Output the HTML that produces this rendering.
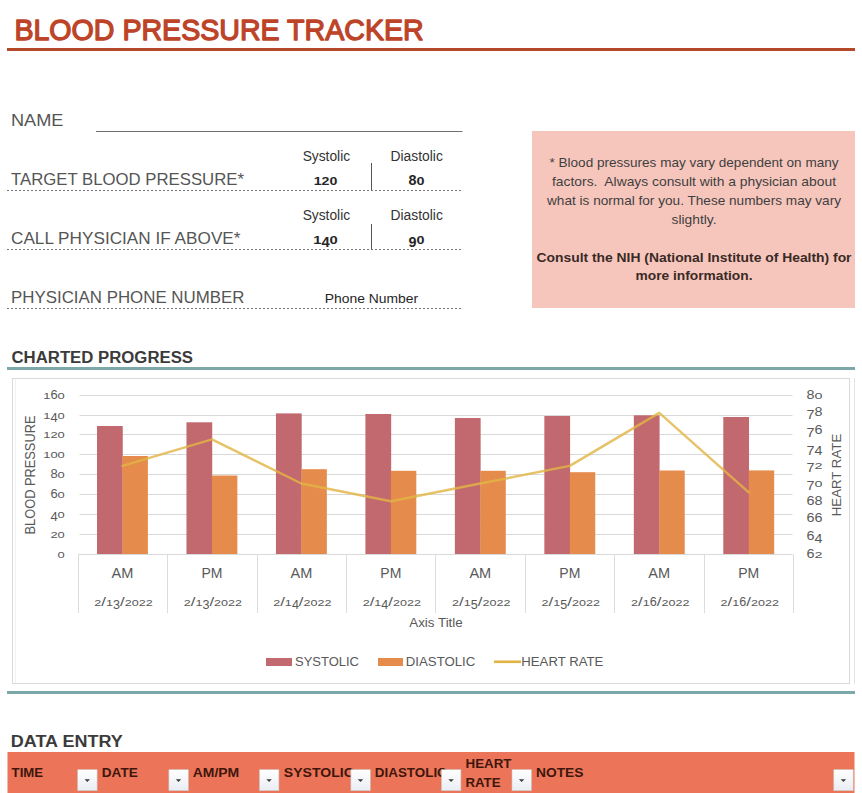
<!DOCTYPE html>
<html><head><meta charset="utf-8"><title>Blood Pressure Tracker</title>
<style>
html,body{margin:0;padding:0;background:#fff;}
body{width:862px;height:793px;overflow:hidden;}
svg{display:block;font-family:"Liberation Sans", Arial, sans-serif;}
</style></head>
<body>
<svg width="862" height="793" viewBox="0 0 862 793">
<defs><linearGradient id="dd" x1="0" y1="0" x2="0" y2="1"><stop offset="0" stop-color="#ffffff"/><stop offset="1" stop-color="#e9edf3"/></linearGradient></defs>
<rect x="0" y="0" width="862" height="793" fill="#fff"/>
<text x="14.4" y="39.5" font-size="30.2" fill="#BD4428" textLength="409.3" lengthAdjust="spacingAndGlyphs" stroke="#BD4428" stroke-width="1.35" stroke-linejoin="round">BLOOD PRESSURE TRACKER</text>
<rect x="7" y="48" width="848" height="3" fill="#B6482A"/>
<text x="11" y="126.2" font-size="16.6" fill="#555555" textLength="52.5" lengthAdjust="spacingAndGlyphs">NAME</text>
<rect x="96" y="131" width="366.5" height="1" fill="#707070"/>
<text x="11" y="184.7" font-size="16.6" fill="#555555" textLength="233" lengthAdjust="spacingAndGlyphs">TARGET BLOOD PRESSURE*</text>
<text x="11" y="243.7" font-size="16.6" fill="#555555" textLength="229.5" lengthAdjust="spacingAndGlyphs">CALL PHYSICIAN IF ABOVE*</text>
<text x="11" y="302.7" font-size="16.6" fill="#555555" textLength="233.5" lengthAdjust="spacingAndGlyphs">PHYSICIAN PHONE NUMBER</text>
<line x1="7" y1="190.5" x2="463" y2="190.5" stroke="#777777" stroke-width="1" stroke-dasharray="2 2"/>
<line x1="7" y1="249.5" x2="463" y2="249.5" stroke="#777777" stroke-width="1" stroke-dasharray="2 2"/>
<line x1="7" y1="308.5" x2="463" y2="308.5" stroke="#777777" stroke-width="1" stroke-dasharray="2 2"/>
<text x="326.4" y="161.3" font-size="13.8" fill="#333333" text-anchor="middle" textLength="47.5" lengthAdjust="spacingAndGlyphs">Systolic</text>
<text x="416.7" y="161.3" font-size="13.8" fill="#333333" text-anchor="middle" textLength="52.3" lengthAdjust="spacingAndGlyphs">Diastolic</text>
<text x="326.4" y="220.3" font-size="13.8" fill="#333333" text-anchor="middle" textLength="47.5" lengthAdjust="spacingAndGlyphs">Systolic</text>
<text x="416.7" y="220.3" font-size="13.8" fill="#333333" text-anchor="middle" textLength="52.3" lengthAdjust="spacingAndGlyphs">Diastolic</text>
<rect x="371" y="163" width="1" height="27" fill="#555"/>
<rect x="371" y="224" width="1" height="25" fill="#555"/>
<text fill="#262626" font-weight="bold"><tspan x="313.65" y="185.30" font-size="10.79" textLength="7.90" lengthAdjust="spacingAndGlyphs">1</tspan><tspan x="321.55" y="185.30" font-size="10.79" textLength="7.90" lengthAdjust="spacingAndGlyphs">2</tspan><tspan x="329.45" y="185.30" font-size="10.79" textLength="7.90" lengthAdjust="spacingAndGlyphs">0</tspan></text>
<text fill="#262626" font-weight="bold"><tspan x="408.60" y="185.30" font-size="14.20" textLength="8.00" lengthAdjust="spacingAndGlyphs">8</tspan><tspan x="416.60" y="185.30" font-size="10.79" textLength="8.00" lengthAdjust="spacingAndGlyphs">0</tspan></text>
<text fill="#262626" font-weight="bold"><tspan x="313.20" y="244.10" font-size="10.79" textLength="8.20" lengthAdjust="spacingAndGlyphs">1</tspan><tspan x="321.40" y="247.37" font-size="14.20" textLength="8.20" lengthAdjust="spacingAndGlyphs">4</tspan><tspan x="329.60" y="244.10" font-size="10.79" textLength="8.20" lengthAdjust="spacingAndGlyphs">0</tspan></text>
<text fill="#262626" font-weight="bold"><tspan x="408.60" y="247.37" font-size="14.20" textLength="8.00" lengthAdjust="spacingAndGlyphs">9</tspan><tspan x="416.60" y="244.10" font-size="10.79" textLength="8.00" lengthAdjust="spacingAndGlyphs">0</tspan></text>
<text x="371.5" y="302.8" font-size="13.2" fill="#262626" text-anchor="middle" textLength="93.3" lengthAdjust="spacingAndGlyphs">Phone Number</text>
<rect x="532" y="131" width="323" height="177" fill="#F6C6BC"/>
<text x="694" y="166.7" font-size="13.3" fill="#3f3f3f" text-anchor="middle" textLength="289" lengthAdjust="spacingAndGlyphs">* Blood pressures may vary dependent on many</text>
<text x="694" y="185.7" font-size="13.3" fill="#3f3f3f" text-anchor="middle" textLength="284" lengthAdjust="spacingAndGlyphs">factors.&#160; Always consult with a physician about</text>
<text x="694" y="204.5" font-size="13.3" fill="#3f3f3f" text-anchor="middle" textLength="294" lengthAdjust="spacingAndGlyphs">what is normal for you. These numbers may vary</text>
<text x="694" y="223.8" font-size="13.3" fill="#3f3f3f" text-anchor="middle" textLength="45" lengthAdjust="spacingAndGlyphs">slightly.</text>
<text x="694" y="261.8" font-size="13.3" fill="#3a2a26" font-weight="bold" text-anchor="middle" textLength="315" lengthAdjust="spacingAndGlyphs">Consult the NIH (National Institute of Health) for</text>
<text x="694" y="280.4" font-size="13.3" fill="#3a2a26" font-weight="bold" text-anchor="middle" textLength="117" lengthAdjust="spacingAndGlyphs">more information.</text>
<text x="11.5" y="362.7" font-size="16" fill="#3b3b3b" font-weight="bold" textLength="181.5" lengthAdjust="spacingAndGlyphs">CHARTED PROGRESS</text>
<rect x="7" y="367" width="848" height="3" fill="#7CA8AA"/>
<rect x="12.5" y="378.5" width="837" height="305" fill="#fff" stroke="#D9D9D9" stroke-width="1"/>
<rect x="854" y="378" width="1" height="306" fill="#e4e4e4"/>
<rect x="15" y="379" width="1" height="304" fill="#f0f0f0"/>
<rect x="79.5" y="534" width="713.0" height="1" fill="#D9D9D9"/>
<rect x="79.5" y="514" width="713.0" height="1" fill="#D9D9D9"/>
<rect x="79.5" y="494" width="713.0" height="1" fill="#D9D9D9"/>
<rect x="79.5" y="474" width="713.0" height="1" fill="#D9D9D9"/>
<rect x="79.5" y="454" width="713.0" height="1" fill="#D9D9D9"/>
<rect x="79.5" y="434" width="713.0" height="1" fill="#D9D9D9"/>
<rect x="79.5" y="415" width="713.0" height="1" fill="#D9D9D9"/>
<rect x="79.5" y="395" width="713.0" height="1" fill="#D9D9D9"/>
<rect x="78.0" y="554" width="714.5" height="1" fill="#D9D9D9"/>
<rect x="78" y="554" width="1" height="59" fill="#DCDCDC"/>
<rect x="167" y="554" width="1" height="59" fill="#DCDCDC"/>
<rect x="257" y="554" width="1" height="59" fill="#DCDCDC"/>
<rect x="346" y="554" width="1" height="59" fill="#DCDCDC"/>
<rect x="435" y="554" width="1" height="59" fill="#DCDCDC"/>
<rect x="525" y="554" width="1" height="59" fill="#DCDCDC"/>
<rect x="614" y="554" width="1" height="59" fill="#DCDCDC"/>
<rect x="704" y="554" width="1" height="59" fill="#DCDCDC"/>
<rect x="793" y="554" width="1" height="59" fill="#DCDCDC"/>
<rect x="97.00" y="426.00" width="25.75" height="128.00" fill="#C2686F"/>
<rect x="122.45" y="456.00" width="25.45" height="98.00" fill="#E58B4B"/>
<rect x="186.47" y="422.30" width="25.75" height="131.70" fill="#C2686F"/>
<rect x="211.92" y="475.50" width="25.45" height="78.50" fill="#E58B4B"/>
<rect x="275.94" y="413.40" width="25.75" height="140.60" fill="#C2686F"/>
<rect x="301.39" y="469.20" width="25.45" height="84.80" fill="#E58B4B"/>
<rect x="365.41" y="414.00" width="25.75" height="140.00" fill="#C2686F"/>
<rect x="390.86" y="470.80" width="25.45" height="83.20" fill="#E58B4B"/>
<rect x="454.88" y="418.00" width="25.75" height="136.00" fill="#C2686F"/>
<rect x="480.33" y="470.80" width="25.45" height="83.20" fill="#E58B4B"/>
<rect x="544.35" y="416.00" width="25.75" height="138.00" fill="#C2686F"/>
<rect x="569.80" y="472.20" width="25.45" height="81.80" fill="#E58B4B"/>
<rect x="633.82" y="415.30" width="25.75" height="138.70" fill="#C2686F"/>
<rect x="659.27" y="470.50" width="25.45" height="83.50" fill="#E58B4B"/>
<rect x="723.29" y="417.00" width="25.75" height="137.00" fill="#C2686F"/>
<rect x="748.74" y="470.40" width="25.45" height="83.60" fill="#E58B4B"/>
<polyline points="122.45,465.87 211.92,439.37 301.39,483.53 390.86,501.20 480.33,483.53 569.80,465.87 659.27,412.87 748.74,492.37" fill="none" stroke="#E2B444" stroke-opacity="0.82" stroke-width="2.4" stroke-linejoin="round" stroke-linecap="round"/>
<text fill="#595959"><tspan x="57.60" y="557.80" font-size="9.65" textLength="7.20" lengthAdjust="spacingAndGlyphs">0</tspan></text>
<text fill="#595959"><tspan x="50.40" y="537.80" font-size="9.65" textLength="7.20" lengthAdjust="spacingAndGlyphs">2</tspan><tspan x="57.60" y="537.80" font-size="9.65" textLength="7.20" lengthAdjust="spacingAndGlyphs">0</tspan></text>
<text fill="#595959"><tspan x="50.40" y="520.88" font-size="13.40" textLength="7.20" lengthAdjust="spacingAndGlyphs">4</tspan><tspan x="57.60" y="517.80" font-size="9.65" textLength="7.20" lengthAdjust="spacingAndGlyphs">0</tspan></text>
<text fill="#595959"><tspan x="50.40" y="497.80" font-size="13.40" textLength="7.20" lengthAdjust="spacingAndGlyphs">6</tspan><tspan x="57.60" y="497.80" font-size="9.65" textLength="7.20" lengthAdjust="spacingAndGlyphs">0</tspan></text>
<text fill="#595959"><tspan x="50.40" y="477.80" font-size="13.40" textLength="7.20" lengthAdjust="spacingAndGlyphs">8</tspan><tspan x="57.60" y="477.80" font-size="9.65" textLength="7.20" lengthAdjust="spacingAndGlyphs">0</tspan></text>
<text fill="#595959"><tspan x="43.20" y="457.80" font-size="9.65" textLength="7.20" lengthAdjust="spacingAndGlyphs">1</tspan><tspan x="50.40" y="457.80" font-size="9.65" textLength="7.20" lengthAdjust="spacingAndGlyphs">0</tspan><tspan x="57.60" y="457.80" font-size="9.65" textLength="7.20" lengthAdjust="spacingAndGlyphs">0</tspan></text>
<text fill="#595959"><tspan x="43.20" y="437.80" font-size="9.65" textLength="7.20" lengthAdjust="spacingAndGlyphs">1</tspan><tspan x="50.40" y="437.80" font-size="9.65" textLength="7.20" lengthAdjust="spacingAndGlyphs">2</tspan><tspan x="57.60" y="437.80" font-size="9.65" textLength="7.20" lengthAdjust="spacingAndGlyphs">0</tspan></text>
<text fill="#595959"><tspan x="43.20" y="418.80" font-size="9.65" textLength="7.20" lengthAdjust="spacingAndGlyphs">1</tspan><tspan x="50.40" y="421.88" font-size="13.40" textLength="7.20" lengthAdjust="spacingAndGlyphs">4</tspan><tspan x="57.60" y="418.80" font-size="9.65" textLength="7.20" lengthAdjust="spacingAndGlyphs">0</tspan></text>
<text fill="#595959"><tspan x="43.20" y="398.80" font-size="9.65" textLength="7.20" lengthAdjust="spacingAndGlyphs">1</tspan><tspan x="50.40" y="398.80" font-size="13.40" textLength="7.20" lengthAdjust="spacingAndGlyphs">6</tspan><tspan x="57.60" y="398.80" font-size="9.65" textLength="7.20" lengthAdjust="spacingAndGlyphs">0</tspan></text>
<text fill="#595959"><tspan x="806.60" y="557.60" font-size="13.40" textLength="8.00" lengthAdjust="spacingAndGlyphs">6</tspan><tspan x="814.60" y="557.60" font-size="9.65" textLength="8.00" lengthAdjust="spacingAndGlyphs">2</tspan></text>
<text fill="#595959"><tspan x="806.60" y="539.93" font-size="13.40" textLength="8.00" lengthAdjust="spacingAndGlyphs">6</tspan><tspan x="814.60" y="543.02" font-size="13.40" textLength="8.00" lengthAdjust="spacingAndGlyphs">4</tspan></text>
<text fill="#595959"><tspan x="806.60" y="522.27" font-size="13.40" textLength="8.00" lengthAdjust="spacingAndGlyphs">6</tspan><tspan x="814.60" y="522.27" font-size="13.40" textLength="8.00" lengthAdjust="spacingAndGlyphs">6</tspan></text>
<text fill="#595959"><tspan x="806.60" y="504.60" font-size="13.40" textLength="8.00" lengthAdjust="spacingAndGlyphs">6</tspan><tspan x="814.60" y="504.60" font-size="13.40" textLength="8.00" lengthAdjust="spacingAndGlyphs">8</tspan></text>
<text fill="#595959"><tspan x="806.60" y="490.02" font-size="13.40" textLength="8.00" lengthAdjust="spacingAndGlyphs">7</tspan><tspan x="814.60" y="486.93" font-size="9.65" textLength="8.00" lengthAdjust="spacingAndGlyphs">0</tspan></text>
<text fill="#595959"><tspan x="806.60" y="472.35" font-size="13.40" textLength="8.00" lengthAdjust="spacingAndGlyphs">7</tspan><tspan x="814.60" y="469.27" font-size="9.65" textLength="8.00" lengthAdjust="spacingAndGlyphs">2</tspan></text>
<text fill="#595959"><tspan x="806.60" y="454.68" font-size="13.40" textLength="8.00" lengthAdjust="spacingAndGlyphs">7</tspan><tspan x="814.60" y="454.68" font-size="13.40" textLength="8.00" lengthAdjust="spacingAndGlyphs">4</tspan></text>
<text fill="#595959"><tspan x="806.60" y="437.02" font-size="13.40" textLength="8.00" lengthAdjust="spacingAndGlyphs">7</tspan><tspan x="814.60" y="433.93" font-size="13.40" textLength="8.00" lengthAdjust="spacingAndGlyphs">6</tspan></text>
<text fill="#595959"><tspan x="806.60" y="419.35" font-size="13.40" textLength="8.00" lengthAdjust="spacingAndGlyphs">7</tspan><tspan x="814.60" y="416.27" font-size="13.40" textLength="8.00" lengthAdjust="spacingAndGlyphs">8</tspan></text>
<text fill="#595959"><tspan x="806.60" y="398.60" font-size="13.40" textLength="8.00" lengthAdjust="spacingAndGlyphs">8</tspan><tspan x="814.60" y="398.60" font-size="9.65" textLength="8.00" lengthAdjust="spacingAndGlyphs">0</tspan></text>
<text x="122.45" y="578" font-size="13.9" fill="#595959" text-anchor="middle" textLength="21.8" lengthAdjust="spacingAndGlyphs">AM</text>
<text fill="#595959"><tspan x="94.25" y="605.50" font-size="9.65" textLength="7.00" lengthAdjust="spacingAndGlyphs">2</tspan><tspan x="101.25" y="605.50" font-size="13.40" textLength="4.70" lengthAdjust="spacingAndGlyphs">/</tspan><tspan x="105.95" y="605.50" font-size="9.65" textLength="7.00" lengthAdjust="spacingAndGlyphs">1</tspan><tspan x="112.95" y="608.58" font-size="13.40" textLength="7.00" lengthAdjust="spacingAndGlyphs">3</tspan><tspan x="119.95" y="605.50" font-size="13.40" textLength="4.70" lengthAdjust="spacingAndGlyphs">/</tspan><tspan x="124.65" y="605.50" font-size="9.65" textLength="7.00" lengthAdjust="spacingAndGlyphs">2</tspan><tspan x="131.65" y="605.50" font-size="9.65" textLength="7.00" lengthAdjust="spacingAndGlyphs">0</tspan><tspan x="138.65" y="605.50" font-size="9.65" textLength="7.00" lengthAdjust="spacingAndGlyphs">2</tspan><tspan x="145.65" y="605.50" font-size="9.65" textLength="7.00" lengthAdjust="spacingAndGlyphs">2</tspan></text>
<text x="211.92" y="578" font-size="13.9" fill="#595959" text-anchor="middle" textLength="21" lengthAdjust="spacingAndGlyphs">PM</text>
<text fill="#595959"><tspan x="183.72" y="605.50" font-size="9.65" textLength="7.00" lengthAdjust="spacingAndGlyphs">2</tspan><tspan x="190.72" y="605.50" font-size="13.40" textLength="4.70" lengthAdjust="spacingAndGlyphs">/</tspan><tspan x="195.42" y="605.50" font-size="9.65" textLength="7.00" lengthAdjust="spacingAndGlyphs">1</tspan><tspan x="202.42" y="608.58" font-size="13.40" textLength="7.00" lengthAdjust="spacingAndGlyphs">3</tspan><tspan x="209.42" y="605.50" font-size="13.40" textLength="4.70" lengthAdjust="spacingAndGlyphs">/</tspan><tspan x="214.12" y="605.50" font-size="9.65" textLength="7.00" lengthAdjust="spacingAndGlyphs">2</tspan><tspan x="221.12" y="605.50" font-size="9.65" textLength="7.00" lengthAdjust="spacingAndGlyphs">0</tspan><tspan x="228.12" y="605.50" font-size="9.65" textLength="7.00" lengthAdjust="spacingAndGlyphs">2</tspan><tspan x="235.12" y="605.50" font-size="9.65" textLength="7.00" lengthAdjust="spacingAndGlyphs">2</tspan></text>
<text x="301.39" y="578" font-size="13.9" fill="#595959" text-anchor="middle" textLength="21.8" lengthAdjust="spacingAndGlyphs">AM</text>
<text fill="#595959"><tspan x="273.19" y="605.50" font-size="9.65" textLength="7.00" lengthAdjust="spacingAndGlyphs">2</tspan><tspan x="280.19" y="605.50" font-size="13.40" textLength="4.70" lengthAdjust="spacingAndGlyphs">/</tspan><tspan x="284.89" y="605.50" font-size="9.65" textLength="7.00" lengthAdjust="spacingAndGlyphs">1</tspan><tspan x="291.89" y="608.58" font-size="13.40" textLength="7.00" lengthAdjust="spacingAndGlyphs">4</tspan><tspan x="298.89" y="605.50" font-size="13.40" textLength="4.70" lengthAdjust="spacingAndGlyphs">/</tspan><tspan x="303.59" y="605.50" font-size="9.65" textLength="7.00" lengthAdjust="spacingAndGlyphs">2</tspan><tspan x="310.59" y="605.50" font-size="9.65" textLength="7.00" lengthAdjust="spacingAndGlyphs">0</tspan><tspan x="317.59" y="605.50" font-size="9.65" textLength="7.00" lengthAdjust="spacingAndGlyphs">2</tspan><tspan x="324.59" y="605.50" font-size="9.65" textLength="7.00" lengthAdjust="spacingAndGlyphs">2</tspan></text>
<text x="390.86" y="578" font-size="13.9" fill="#595959" text-anchor="middle" textLength="21" lengthAdjust="spacingAndGlyphs">PM</text>
<text fill="#595959"><tspan x="362.66" y="605.50" font-size="9.65" textLength="7.00" lengthAdjust="spacingAndGlyphs">2</tspan><tspan x="369.66" y="605.50" font-size="13.40" textLength="4.70" lengthAdjust="spacingAndGlyphs">/</tspan><tspan x="374.36" y="605.50" font-size="9.65" textLength="7.00" lengthAdjust="spacingAndGlyphs">1</tspan><tspan x="381.36" y="608.58" font-size="13.40" textLength="7.00" lengthAdjust="spacingAndGlyphs">4</tspan><tspan x="388.36" y="605.50" font-size="13.40" textLength="4.70" lengthAdjust="spacingAndGlyphs">/</tspan><tspan x="393.06" y="605.50" font-size="9.65" textLength="7.00" lengthAdjust="spacingAndGlyphs">2</tspan><tspan x="400.06" y="605.50" font-size="9.65" textLength="7.00" lengthAdjust="spacingAndGlyphs">0</tspan><tspan x="407.06" y="605.50" font-size="9.65" textLength="7.00" lengthAdjust="spacingAndGlyphs">2</tspan><tspan x="414.06" y="605.50" font-size="9.65" textLength="7.00" lengthAdjust="spacingAndGlyphs">2</tspan></text>
<text x="480.33" y="578" font-size="13.9" fill="#595959" text-anchor="middle" textLength="21.8" lengthAdjust="spacingAndGlyphs">AM</text>
<text fill="#595959"><tspan x="452.13" y="605.50" font-size="9.65" textLength="7.00" lengthAdjust="spacingAndGlyphs">2</tspan><tspan x="459.13" y="605.50" font-size="13.40" textLength="4.70" lengthAdjust="spacingAndGlyphs">/</tspan><tspan x="463.83" y="605.50" font-size="9.65" textLength="7.00" lengthAdjust="spacingAndGlyphs">1</tspan><tspan x="470.83" y="608.58" font-size="13.40" textLength="7.00" lengthAdjust="spacingAndGlyphs">5</tspan><tspan x="477.83" y="605.50" font-size="13.40" textLength="4.70" lengthAdjust="spacingAndGlyphs">/</tspan><tspan x="482.53" y="605.50" font-size="9.65" textLength="7.00" lengthAdjust="spacingAndGlyphs">2</tspan><tspan x="489.53" y="605.50" font-size="9.65" textLength="7.00" lengthAdjust="spacingAndGlyphs">0</tspan><tspan x="496.53" y="605.50" font-size="9.65" textLength="7.00" lengthAdjust="spacingAndGlyphs">2</tspan><tspan x="503.53" y="605.50" font-size="9.65" textLength="7.00" lengthAdjust="spacingAndGlyphs">2</tspan></text>
<text x="569.80" y="578" font-size="13.9" fill="#595959" text-anchor="middle" textLength="21" lengthAdjust="spacingAndGlyphs">PM</text>
<text fill="#595959"><tspan x="541.60" y="605.50" font-size="9.65" textLength="7.00" lengthAdjust="spacingAndGlyphs">2</tspan><tspan x="548.60" y="605.50" font-size="13.40" textLength="4.70" lengthAdjust="spacingAndGlyphs">/</tspan><tspan x="553.30" y="605.50" font-size="9.65" textLength="7.00" lengthAdjust="spacingAndGlyphs">1</tspan><tspan x="560.30" y="608.58" font-size="13.40" textLength="7.00" lengthAdjust="spacingAndGlyphs">5</tspan><tspan x="567.30" y="605.50" font-size="13.40" textLength="4.70" lengthAdjust="spacingAndGlyphs">/</tspan><tspan x="572.00" y="605.50" font-size="9.65" textLength="7.00" lengthAdjust="spacingAndGlyphs">2</tspan><tspan x="579.00" y="605.50" font-size="9.65" textLength="7.00" lengthAdjust="spacingAndGlyphs">0</tspan><tspan x="586.00" y="605.50" font-size="9.65" textLength="7.00" lengthAdjust="spacingAndGlyphs">2</tspan><tspan x="593.00" y="605.50" font-size="9.65" textLength="7.00" lengthAdjust="spacingAndGlyphs">2</tspan></text>
<text x="659.27" y="578" font-size="13.9" fill="#595959" text-anchor="middle" textLength="21.8" lengthAdjust="spacingAndGlyphs">AM</text>
<text fill="#595959"><tspan x="631.07" y="605.50" font-size="9.65" textLength="7.00" lengthAdjust="spacingAndGlyphs">2</tspan><tspan x="638.07" y="605.50" font-size="13.40" textLength="4.70" lengthAdjust="spacingAndGlyphs">/</tspan><tspan x="642.77" y="605.50" font-size="9.65" textLength="7.00" lengthAdjust="spacingAndGlyphs">1</tspan><tspan x="649.77" y="605.50" font-size="13.40" textLength="7.00" lengthAdjust="spacingAndGlyphs">6</tspan><tspan x="656.77" y="605.50" font-size="13.40" textLength="4.70" lengthAdjust="spacingAndGlyphs">/</tspan><tspan x="661.47" y="605.50" font-size="9.65" textLength="7.00" lengthAdjust="spacingAndGlyphs">2</tspan><tspan x="668.47" y="605.50" font-size="9.65" textLength="7.00" lengthAdjust="spacingAndGlyphs">0</tspan><tspan x="675.47" y="605.50" font-size="9.65" textLength="7.00" lengthAdjust="spacingAndGlyphs">2</tspan><tspan x="682.47" y="605.50" font-size="9.65" textLength="7.00" lengthAdjust="spacingAndGlyphs">2</tspan></text>
<text x="748.74" y="578" font-size="13.9" fill="#595959" text-anchor="middle" textLength="21" lengthAdjust="spacingAndGlyphs">PM</text>
<text fill="#595959"><tspan x="720.54" y="605.50" font-size="9.65" textLength="7.00" lengthAdjust="spacingAndGlyphs">2</tspan><tspan x="727.54" y="605.50" font-size="13.40" textLength="4.70" lengthAdjust="spacingAndGlyphs">/</tspan><tspan x="732.24" y="605.50" font-size="9.65" textLength="7.00" lengthAdjust="spacingAndGlyphs">1</tspan><tspan x="739.24" y="605.50" font-size="13.40" textLength="7.00" lengthAdjust="spacingAndGlyphs">6</tspan><tspan x="746.24" y="605.50" font-size="13.40" textLength="4.70" lengthAdjust="spacingAndGlyphs">/</tspan><tspan x="750.94" y="605.50" font-size="9.65" textLength="7.00" lengthAdjust="spacingAndGlyphs">2</tspan><tspan x="757.94" y="605.50" font-size="9.65" textLength="7.00" lengthAdjust="spacingAndGlyphs">0</tspan><tspan x="764.94" y="605.50" font-size="9.65" textLength="7.00" lengthAdjust="spacingAndGlyphs">2</tspan><tspan x="771.94" y="605.50" font-size="9.65" textLength="7.00" lengthAdjust="spacingAndGlyphs">2</tspan></text>
<text x="436" y="626.6" font-size="13.2" fill="#595959" text-anchor="middle" textLength="53.5" lengthAdjust="spacingAndGlyphs">Axis Title</text>
<text x="0" y="0" font-size="14.6" fill="#595959" text-anchor="middle" textLength="119" lengthAdjust="spacingAndGlyphs" transform="translate(35.3,475) rotate(-90)">BLOOD PRESSURE</text>
<text x="0" y="0" font-size="13" fill="#595959" text-anchor="middle" textLength="82.5" lengthAdjust="spacingAndGlyphs" transform="translate(841.4,475) rotate(-90)">HEART RATE</text>
<rect x="266" y="658" width="26" height="8" fill="#C2686F"/>
<text x="295" y="666.3" font-size="13.6" fill="#595959" textLength="64" lengthAdjust="spacingAndGlyphs">SYSTOLIC</text>
<rect x="378" y="658" width="25" height="8" fill="#E58B4B"/>
<text x="405.8" y="666.3" font-size="13.6" fill="#595959" textLength="69.5" lengthAdjust="spacingAndGlyphs">DIASTOLIC</text>
<rect x="494" y="660.5" width="27" height="2.6" fill="#E2B444"/>
<text x="521.3" y="666.3" font-size="13.6" fill="#595959" textLength="82" lengthAdjust="spacingAndGlyphs">HEART RATE</text>
<rect x="7" y="691" width="848" height="3" fill="#7CA8AA"/>
<text x="10.8" y="746.8" font-size="16" fill="#3b3b3b" font-weight="bold" textLength="112" lengthAdjust="spacingAndGlyphs">DATA ENTRY</text>
<rect x="7.5" y="752" width="847" height="41" fill="#EC7559"/>
<text x="11.6" y="776.7" font-size="13.6" fill="#40160c" font-weight="bold" textLength="31.5" lengthAdjust="spacingAndGlyphs">TIME</text>
<text x="101.8" y="776.7" font-size="13.6" fill="#40160c" font-weight="bold" textLength="36" lengthAdjust="spacingAndGlyphs">DATE</text>
<text x="192.7" y="776.7" font-size="13.6" fill="#40160c" font-weight="bold" textLength="46.5" lengthAdjust="spacingAndGlyphs">AM/PM</text>
<text x="283.8" y="776.7" font-size="13.6" fill="#40160c" font-weight="bold" textLength="70" lengthAdjust="spacingAndGlyphs">SYSTOLIC</text>
<text x="374.8" y="776.7" font-size="13.6" fill="#40160c" font-weight="bold" textLength="72" lengthAdjust="spacingAndGlyphs">DIASTOLIC</text>
<text x="536" y="776.7" font-size="13.6" fill="#40160c" font-weight="bold" textLength="47.5" lengthAdjust="spacingAndGlyphs">NOTES</text>
<text x="465.5" y="767.6" font-size="13.6" fill="#40160c" font-weight="bold" textLength="46" lengthAdjust="spacingAndGlyphs">HEART</text>
<text x="465.5" y="787.0" font-size="13.6" fill="#40160c" font-weight="bold" textLength="35" lengthAdjust="spacingAndGlyphs">RATE</text>
<g transform="translate(77.7,769.7)"><rect x="0" y="0" width="19.4" height="21" fill="url(#dd)" stroke="#c9c9c9" stroke-width="0.6"/><path d="M6.9 9.5 L12.3 9.5 L9.6 12.3 Z" fill="#3a3a3a"/></g>
<g transform="translate(168.9,769.7)"><rect x="0" y="0" width="19.4" height="21" fill="url(#dd)" stroke="#c9c9c9" stroke-width="0.6"/><path d="M6.9 9.5 L12.3 9.5 L9.6 12.3 Z" fill="#3a3a3a"/></g>
<g transform="translate(259.5,769.7)"><rect x="0" y="0" width="19.4" height="21" fill="url(#dd)" stroke="#c9c9c9" stroke-width="0.6"/><path d="M6.9 9.5 L12.3 9.5 L9.6 12.3 Z" fill="#3a3a3a"/></g>
<g transform="translate(350.9,769.7)"><rect x="0" y="0" width="19.4" height="21" fill="url(#dd)" stroke="#c9c9c9" stroke-width="0.6"/><path d="M6.9 9.5 L12.3 9.5 L9.6 12.3 Z" fill="#3a3a3a"/></g>
<g transform="translate(441.5,769.7)"><rect x="0" y="0" width="19.4" height="21" fill="url(#dd)" stroke="#c9c9c9" stroke-width="0.6"/><path d="M6.9 9.5 L12.3 9.5 L9.6 12.3 Z" fill="#3a3a3a"/></g>
<g transform="translate(512.0,769.7)"><rect x="0" y="0" width="19.4" height="21" fill="url(#dd)" stroke="#c9c9c9" stroke-width="0.6"/><path d="M6.9 9.5 L12.3 9.5 L9.6 12.3 Z" fill="#3a3a3a"/></g>
<g transform="translate(833.8,769.7)"><rect x="0" y="0" width="19.4" height="21" fill="url(#dd)" stroke="#c9c9c9" stroke-width="0.6"/><path d="M6.9 9.5 L12.3 9.5 L9.6 12.3 Z" fill="#3a3a3a"/></g>
</svg>
</body></html>
